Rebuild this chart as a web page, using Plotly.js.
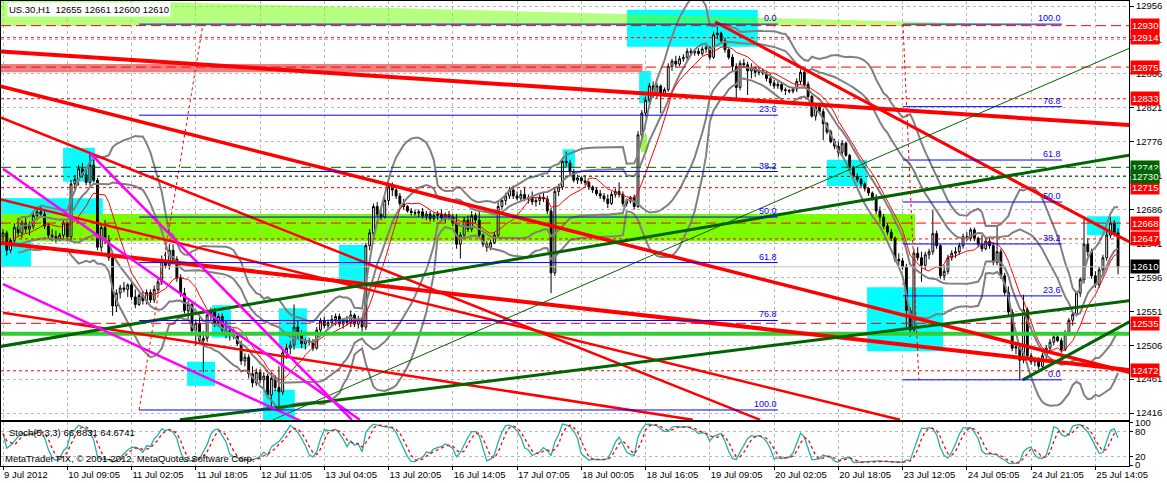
<!DOCTYPE html>
<html>
<head>
<meta charset="utf-8">
<script src="https://cdn.plot.ly/plotly-3.0.1.min.js"></script>
<style>
  html, body { margin: 0; padding: 0; background: #fff; }
  #chart { width: 1167px; height: 483px; }
</style>
</head>
<body>
<div id="chart"></div>
<script>
// US.30 H1, 9 Jul - 25 Jul 2012, one value per hourly bar
const opens = [
  12650,12655,12632,12645,12662,12655,12668,12660,12664,12678,
  12683,12680,12664,12652,12650,12647,12652,12668,12650,12720,
  12726,12740,12732,12722,12745,12725,12636,12662,12645,12622,
  12558,12575,12582,12580,12586,12570,12560,12572,12565,12576,
  12566,12580,12590,12618,12612,12632,12620,12595,12575,12552,
  12560,12525,12535,12512,12515,12546,12550,12536,12544,12526,
  12520,12525,12518,12508,12485,12490,12468,12456,12470,12460,
  12465,12440,12462,12450,12444,12496,12502,12506,12530,12520,
  12508,12512,12510,12502,12526,12538,12532,12536,12540,12544,
  12534,12538,12536,12546,12534,12540,12530,12638,12655,12690,
  12680,12676,12698,12716,12712,12704,12694,12690,12684,12682,
  12681,12683,12677,12680,12674,12678,12680,12675,12679,12676,
  12668,12640,12652,12672,12660,12678,12672,12652,12640,12636,
  12642,12652,12690,12698,12704,12712,12704,12701,12706,12700,
  12702,12696,12698,12702,12700,12684,12602,12710,12716,12750,
  12748,12736,12725,12728,12724,12722,12716,12712,12707,12704,
  12700,12694,12706,12710,12706,12694,12697,12702,12690,12785,
  12814,12831,12850,12838,12850,12840,12845,12876,12883,12879,
  12886,12888,12896,12894,12896,12893,12899,12901,12888,12918,
  12920,12910,12898,12888,12876,12848,12880,12878,12870,12874,
  12868,12870,12867,12860,12854,12850,12852,12845,12844,12843,
  12846,12856,12868,12852,12836,12810,12822,12816,12800,12789,
  12776,12770,12762,12774,12758,12742,12730,12726,12720,12714,
  12708,12702,12684,12676,12664,12656,12648,12620,12618,12610,
  12552,12526,12628,12622,12612,12626,12630,12654,12638,12598,
  12604,12622,12628,12630,12638,12650,12648,12659,12648,12640,
  12634,12644,12638,12616,12630,12598,12576,12550,12502,12504,
  12486,12553,12492,12484,12486,12478,12492,12502,12510,12517,
  12512,12500,12522,12539,12547,12575,12593,12640,12630,12598,
  12586,12606,12622,12652,12668,12655
];
const highs = [
  12660,12658,12648,12668,12675,12672,12676,12670,12682,12688,
  12690,12684,12668,12660,12658,12655,12672,12670,12725,12732,
  12745,12748,12742,12762,12752,12728,12668,12672,12652,12626,
  12580,12586,12590,12588,12590,12580,12575,12578,12580,12580,
  12585,12596,12625,12630,12640,12640,12624,12600,12582,12565,
  12562,12540,12545,12525,12550,12556,12555,12548,12548,12538,
  12530,12528,12522,12512,12495,12494,12478,12475,12474,12470,
  12468,12470,12466,12478,12500,12508,12512,12560,12538,12526,
  12515,12516,12514,12530,12542,12544,12540,12546,12548,12548,
  12542,12545,12552,12548,12545,12542,12642,12660,12694,12696,
  12688,12702,12724,12722,12714,12708,12700,12692,12688,12686,
  12686,12688,12684,12684,12682,12684,12686,12682,12684,12680,
  12680,12656,12676,12678,12684,12682,12684,12654,12644,12646,
  12656,12696,12702,12708,12716,12718,12710,12712,12716,12706,
  12710,12702,12706,12708,12704,12688,12714,12720,12755,12763,
  12752,12740,12732,12730,12732,12724,12718,12716,12712,12708,
  12706,12710,12714,12722,12710,12700,12704,12706,12790,12818,
  12836,12854,12856,12854,12852,12848,12880,12886,12890,12890,
  12892,12900,12900,12899,12900,12902,12904,12903,12922,12929,
  12922,12914,12900,12892,12880,12884,12886,12882,12880,12876,
  12874,12873,12870,12866,12858,12856,12854,12848,12846,12848,
  12860,12872,12874,12856,12838,12826,12828,12820,12802,12792,
  12780,12776,12778,12776,12760,12744,12734,12728,12722,12716,
  12710,12706,12690,12680,12668,12660,12650,12628,12622,12614,
  12556,12634,12636,12630,12630,12634,12685,12658,12640,12612,
  12626,12632,12636,12642,12654,12656,12662,12662,12650,12652,
  12648,12650,12642,12663,12634,12602,12584,12554,12508,12508,
  12573,12556,12496,12490,12490,12496,12506,12514,12520,12522,
  12516,12526,12542,12550,12578,12596,12677,12648,12634,12604,
  12610,12626,12660,12676,12672,12661
];
const lows = [
  12640,12625,12628,12640,12650,12648,12655,12652,12660,12672,
  12676,12660,12648,12644,12642,12644,12648,12644,12644,12712,
  12718,12728,12718,12718,12722,12632,12630,12640,12618,12545,
  12550,12568,12576,12570,12566,12555,12558,12560,12560,12562,
  12562,12575,12586,12608,12606,12615,12590,12570,12548,12540,
  12520,12505,12508,12470,12510,12538,12530,12530,12522,12515,
  12512,12514,12505,12480,12478,12462,12450,12452,12455,12448,
  12436,12422,12445,12424,12440,12488,12494,12500,12515,12502,
  12500,12506,12498,12500,12520,12528,12526,12530,12532,12530,
  12528,12532,12530,12530,12528,12524,12526,12632,12650,12676,
  12672,12674,12692,12704,12700,12690,12686,12682,12678,12678,
  12676,12674,12672,12670,12670,12672,12670,12668,12672,12664,
  12634,12621,12648,12656,12656,12668,12648,12636,12630,12632,
  12640,12648,12686,12692,12700,12700,12698,12696,12697,12694,
  12692,12690,12692,12696,12680,12575,12598,12704,12712,12742,
  12730,12722,12720,12720,12718,12712,12708,12704,12700,12696,
  12688,12692,12702,12702,12690,12690,12694,12686,12688,12780,
  12810,12828,12834,12834,12814,12836,12842,12870,12874,12876,
  12882,12884,12890,12890,12890,12890,12894,12884,12886,12912,
  12906,12894,12885,12870,12831,12844,12874,12838,12860,12862,
  12864,12864,12856,12850,12846,12846,12842,12838,12840,12840,
  12842,12852,12848,12832,12808,12804,12812,12778,12786,12774,
  12766,12756,12756,12756,12740,12726,12722,12716,12710,12704,
  12698,12680,12670,12660,12652,12644,12616,12612,12606,12530,
  12517,12522,12618,12590,12606,12620,12626,12634,12594,12592,
  12600,12618,12622,12626,12634,12644,12644,12644,12636,12630,
  12632,12634,12612,12612,12594,12572,12544,12498,12494,12460,
  12482,12488,12480,12478,12474,12474,12488,12498,12506,12510,
  12496,12498,12518,12532,12544,12570,12588,12624,12594,12582,
  12582,12598,12618,12648,12650,12600
];
const closes = [
  12655,12632,12645,12662,12655,12668,12660,12664,12678,12683,
  12680,12664,12652,12650,12647,12652,12668,12650,12720,12726,
  12740,12732,12722,12745,12725,12636,12662,12645,12622,12558,
  12575,12582,12580,12586,12570,12560,12572,12565,12576,12566,
  12580,12590,12618,12612,12632,12620,12595,12575,12552,12560,
  12525,12535,12512,12515,12546,12550,12536,12544,12526,12520,
  12525,12518,12508,12485,12490,12468,12456,12470,12460,12465,
  12440,12462,12450,12444,12496,12502,12506,12530,12520,12508,
  12512,12510,12502,12526,12538,12532,12536,12540,12544,12534,
  12538,12536,12546,12534,12540,12530,12638,12655,12690,12680,
  12676,12698,12716,12712,12704,12694,12690,12684,12682,12681,
  12683,12677,12680,12674,12678,12680,12675,12679,12676,12668,
  12640,12652,12672,12660,12678,12672,12652,12640,12636,12642,
  12652,12690,12698,12704,12712,12704,12701,12706,12700,12702,
  12696,12698,12702,12700,12684,12602,12710,12716,12750,12748,
  12736,12725,12728,12724,12722,12716,12712,12707,12704,12700,
  12694,12706,12710,12706,12694,12697,12702,12690,12785,12814,
  12831,12850,12838,12850,12840,12845,12876,12883,12879,12886,
  12888,12896,12894,12896,12893,12899,12901,12888,12918,12920,
  12910,12898,12888,12876,12848,12880,12878,12870,12874,12868,
  12870,12867,12860,12854,12850,12852,12845,12844,12843,12846,
  12856,12868,12852,12836,12810,12822,12816,12800,12789,12776,
  12770,12762,12774,12758,12742,12730,12726,12720,12714,12708,
  12702,12684,12676,12664,12656,12648,12620,12618,12610,12552,
  12526,12628,12622,12612,12626,12630,12654,12638,12598,12604,
  12622,12628,12630,12638,12650,12648,12659,12648,12640,12634,
  12644,12638,12616,12630,12598,12576,12550,12502,12504,12486,
  12553,12492,12484,12486,12478,12492,12502,12510,12517,12512,
  12500,12522,12539,12547,12575,12593,12640,12630,12598,12586,
  12606,12622,12652,12668,12655,12610
];

// time scale labels (bar index -> text)
const tickBars = [0,17,34,51,68,85,102,119,136,153,170,187,204,221,238,255,272,289];
const tickLabels = ['9 Jul 2012','10 Jul 09:05','11 Jul 02:05','11 Jul 18:05','12 Jul 11:05',
  '13 Jul 04:05','13 Jul 20:05','16 Jul 14:05','17 Jul 07:05','18 Jul 00:05','18 Jul 16:05',
  '19 Jul 09:05','20 Jul 02:05','20 Jul 18:05','23 Jul 12:05','24 Jul 05:05','24 Jul 21:05','25 Jul 14:05'];
const priceTicks = [12956,12911,12866,12821,12776,12731,12686,12641,12596,12551,12506,12461,12416];

// horizontal levels
const redDashLevels = [12930, 12875, 12668, 12535];
const redDotLevels = [12914, 12833, 12715, 12647, 12472];
const greenDashLevel = 12742;
const greenDotLevel = 12730;
const limeLevel = 12521;
const lastPrice = 12610;

// zones: [bar from, bar to, price low, price high]
const cyanZones = [
  [15.9, 24.3, 12723, 12768], [-1, 26.4, 12644, 12701], [-1, 7.4, 12610, 12701],
  [48.7, 56.1, 12452, 12484], [55.3, 60.3, 12516, 12559], [68.8, 77.2, 12390, 12447],
  [73, 80.4, 12502, 12555], [88.9, 96.3, 12590, 12639], [148.1, 151.3, 12741, 12766],
  [165.1, 199.7, 12902, 12951], [168.3, 171.4, 12827, 12870], [218, 228.6, 12717, 12752],
  [228.6, 248.7, 12498, 12583], [286.8, 295.5, 12652, 12677]
];
const greenZone = [-1, 241.3, 12644, 12680];
const salmonZone = [-1, 169.2, 12868, 12879];
const limeZone = [168.8, 170.4, 12762, 12785];
const topBandBars = [-1, 285, -1];
const topBandPrices = [12967, 12929.5, 12929.5];

// trendlines: [bar0, price0, bar1, price1]
const redLines = [
  [-1, 12896, 298, 12798], [-1, 12850, 298, 12470], [-1, 12809, 200.3, 12407],
  [-1, 12700, 237.3, 12407], [-1, 12642, 298, 12473], [0, 12549, 182.5, 12407],
  [188.4, 12935, 298, 12643]
];
const greenLines = [
  [-1, 12504, 298, 12758], [46.8, 12407, 298, 12565], [71.4, 12407, 298, 12900],
  [269.8, 12460, 298, 12537]
];
const magentaLines = [
  [0, 12740, 94.4, 12407], [0, 12587, 78.6, 12406], [23, 12761, 92.3, 12407]
];

// Fibonacci retracements
const fibLevels = [0, 23.6, 38.2, 50, 61.8, 76.8, 100];
const fibA = { from: 36, to: 205, zero: 12932, hundred: 12420, diag: [36, 12420, 52.9, 12932] };
const fibB = { from: 238.1, to: 280.2, zero: 12460, hundred: 12932, diag: [238.1, 12932, 242.3, 12460] };

const FONT = 'Liberation Sans, Arial, sans-serif';
const N = closes.length;
const bars = closes.map((_, i) => i);

function windowOf(arr, i, n) { return arr.slice(Math.max(0, i - n + 1), i + 1); }
function mean(a) { return a.reduce((s, v) => s + v, 0) / a.length; }

// indicators
const ma10 = bars.map(i => i < 3 ? null : mean(windowOf(closes, i, 10)));
function band(dev) {
  return bars.map(i => {
    if (i < 4) return null;
    const w = windowOf(closes, i, 20);
    const m = mean(w);
    const sd = Math.sqrt(mean(w.map(v => (v - m) * (v - m))));
    return m + dev * sd;
  });
}
const hh = bars.map(i => Math.max(...windowOf(highs, i, 5)));
const ll = bars.map(i => Math.min(...windowOf(lows, i, 5)));
const stochK = bars.map(i => {
  const w = windowOf(bars, i, 3);
  const num = w.reduce((s, j) => s + closes[j] - ll[j], 0);
  const den = w.reduce((s, j) => s + hh[j] - ll[j], 0);
  return den ? 100 * num / den : 50;
});
const stochD = bars.map(i => mean(windowOf(stochK, i, 3)));

const traces = [];
traces.push({
  x: topBandBars, y: topBandPrices, type: 'scatter', mode: 'lines', fill: 'toself',
  fillcolor: 'rgba(110,255,0,0.5)', line: { width: 0 }, hoverinfo: 'skip', xaxis: 'x', yaxis: 'y'
});
traces.push({
  x: bars, open: opens, high: highs, low: lows, close: closes, type: 'candlestick',
  xaxis: 'x', yaxis: 'y', whiskerwidth: 0, hoverinfo: 'skip',
  increasing: { line: { color: 'black', width: 1 }, fillcolor: 'white' },
  decreasing: { line: { color: 'black', width: 1 }, fillcolor: 'black' }
});
[2, -2, 1, -1].forEach(d => {
  traces.push({
    x: bars, y: band(d), type: 'scatter', mode: 'lines', xaxis: 'x', yaxis: 'y',
    line: { color: '#808080', width: 2 }, hoverinfo: 'skip'
  });
});
traces.push({
  x: bars, y: ma10, type: 'scatter', mode: 'lines', xaxis: 'x', yaxis: 'y',
  line: { color: '#ff0000', width: 1 }, hoverinfo: 'skip'
});
traces.push({
  x: bars, y: stochK, type: 'scatter', mode: 'lines', xaxis: 'x2', yaxis: 'y2',
  line: { color: '#20b2aa', width: 1.3 }, hoverinfo: 'skip'
});
traces.push({
  x: bars, y: stochD, type: 'scatter', mode: 'lines', xaxis: 'x2', yaxis: 'y2',
  line: { color: '#ff0000', width: 1.3, dash: '3px,3px' }, hoverinfo: 'skip'
});

const shapes = [];
function zone(z, color) {
  shapes.push({ type: 'rect', xref: 'x', yref: 'y', x0: z[0], x1: z[1], y0: z[2], y1: z[3],
    fillcolor: color, line: { width: 0 }, layer: 'below' });
}
cyanZones.forEach(z => zone(z, '#00ffff'));
zone(greenZone, '#7cfc00');
zone(salmonZone, '#f08080');
zone(limeZone, '#9cff3c');

function hline(y, color, dash, width) {
  shapes.push({ type: 'line', xref: 'paper', x0: 0, x1: 1, yref: 'y', y0: y, y1: y,
    line: { color: color, width: width || 1, dash: dash }, layer: 'above' });
}
hline(lastPrice, '#c0c0c0', 'solid');
hline(limeLevel, '#32cd32', 'solid', 4);
redDashLevels.forEach(v => hline(v, '#ff0000', '10px,5px'));
redDotLevels.forEach(v => hline(v, '#ff0000', '3px,3px'));
hline(greenDashLevel, '#006400', '10px,5px');
hline(greenDotLevel, '#006400', '3px,3px');

function seg(s, color, width, dash) {
  shapes.push({ type: 'line', xref: 'x', yref: 'y', x0: s[0], y0: s[1], x1: s[2], y1: s[3],
    line: { color: color, width: width, dash: dash || 'solid' }, layer: 'above' });
}
const redWidths = [4, 3.5, 2.5, 2.5, 4, 2.5, 3];
redLines.forEach((s, k) => seg(s, '#ff0000', redWidths[k]));
const greenWidths = [3, 3, 1, 3];
greenLines.forEach((s, k) => seg(s, '#006400', greenWidths[k]));
magentaLines.forEach(s => seg(s, '#ff00ff', 2.5));

const annotations = [];
[fibA, fibB].forEach(f => {
  seg(f.diag, '#ff0000', 1, '3px,3px');
  fibLevels.forEach(lv => {
    const p = f.zero + (f.hundred - f.zero) * lv / 100;
    seg([f.from, p, f.to, p], '#0000ff', 1);
    annotations.push({ xref: 'x', yref: 'y', x: f.to, y: p, xanchor: 'right', yanchor: 'bottom',
      text: lv.toFixed(1), showarrow: false, font: { family: FONT, size: 9, color: '#0000ff' }, borderpad: 0 });
  });
});

function priceTag(v, bg) {
  annotations.push({ xref: 'paper', x: 1, xanchor: 'left', xshift: 1, yref: 'y', y: v, yanchor: 'middle',
    text: String(v), showarrow: false, bgcolor: bg, borderpad: 1,
    font: { family: FONT, size: 9.5, color: 'white' } });
}
redDashLevels.concat(redDotLevels).forEach(v => priceTag(v, '#ff0000'));
priceTag(greenDashLevel, '#006400');
priceTag(greenDotLevel, '#006400');
priceTag(lastPrice, '#000000');

const nb = '\u00a0';
annotations.push({ xref: 'paper', yref: 'paper', x: 0.005, y: 0.981, xanchor: 'left', yanchor: 'middle',
  text: 'US.30,H1' + nb + nb + '12655 12661 12600 12610', showarrow: false, bgcolor: 'white', borderpad: 1,
  font: { family: FONT, size: 9.5, color: 'black' } });
annotations.push({ xref: 'paper', yref: 'paper', x: 0.005, y: 0.073, xanchor: 'left', yanchor: 'middle',
  text: 'Stoch(5,3,3) 66.8831 64.6741', showarrow: false, font: { family: FONT, size: 9.5, color: 'black' } });
annotations.push({ xref: 'paper', yref: 'paper', x: 0.002, y: 0.017, xanchor: 'left', yanchor: 'middle',
  text: 'MetaTrader FIX, © 2001-2012, MetaQuotes Software Corp.', showarrow: false,
  font: { family: FONT, size: 9.5, color: 'black' } });

const gridStyle = { showgrid: true, gridcolor: '#b8b8b8', griddash: '3px,3px', gridwidth: 1 };
const xRange = [-0.53, 297.9];

const layout = {
  width: 1167, height: 483,
  margin: { l: 1, r: 38, t: 1, b: 17 },
  paper_bgcolor: 'white', plot_bgcolor: 'white',
  showlegend: false, hovermode: false,
  font: { family: FONT, size: 9.5, color: 'black' },
  xaxis: Object.assign({ anchor: 'y', domain: [0, 1], range: xRange, tickvals: tickBars,
    showticklabels: false, ticks: '', showline: true, mirror: true, linecolor: 'black', linewidth: 1,
    zeroline: false, rangeslider: { visible: false }, fixedrange: true }, gridStyle),
  yaxis: Object.assign({ anchor: 'x', domain: [0.0989, 1], range: [12406.7, 12962.7], side: 'right',
    tickvals: priceTicks, ticktext: priceTicks.map(String), ticks: 'outside', ticklen: 4, tickcolor: 'black',
    showline: true, mirror: true, linecolor: 'black', linewidth: 1, zeroline: false,
    tickfont: { family: FONT, size: 9.5, color: 'black' } }, gridStyle),
  xaxis2: Object.assign({ anchor: 'y2', domain: [0, 1], range: xRange, tickvals: tickBars, ticktext: tickLabels,
    ticklabelposition: 'outside right', ticks: 'outside', ticklen: 3, tickcolor: 'black',
    showline: true, mirror: true, linecolor: 'black', linewidth: 1, zeroline: false,
    tickfont: { family: FONT, size: 9.5, color: 'black' } }, gridStyle),
  yaxis2: Object.assign({ anchor: 'x2', domain: [0, 0.0946], range: [-2, 102], side: 'right',
    tickvals: [0, 20, 80, 100], ticktext: ['0', '20', '80', '100'], ticks: 'outside', ticklen: 3,
    tickcolor: 'black', showline: true, mirror: true, linecolor: 'black', linewidth: 1, zeroline: false,
    tickfont: { family: FONT, size: 9.5, color: 'black' } }, gridStyle),
  shapes: shapes,
  annotations: annotations
};

Plotly.newPlot('chart', traces, layout, { staticPlot: true, displayModeBar: false });
</script>
</body>
</html>
